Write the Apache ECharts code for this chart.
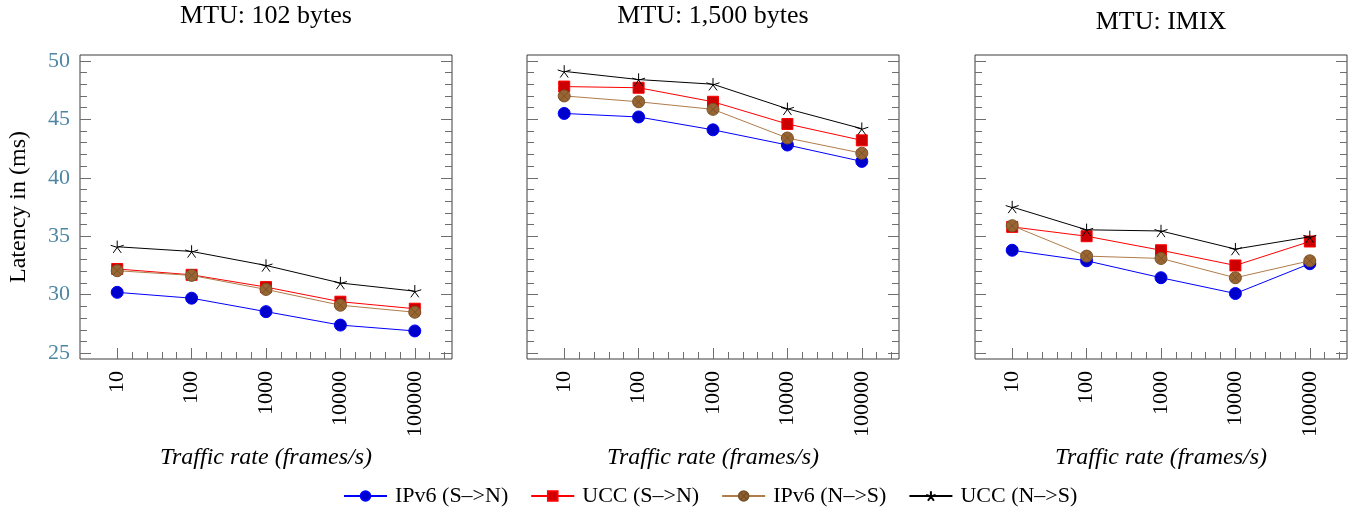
<!DOCTYPE html>
<html>
<head>
<meta charset="utf-8">
<script src="https://cdn.jsdelivr.net/npm/echarts@6/dist/echarts.min.js"></script>
<style>
  html, body { margin: 0; padding: 0; background: #fff; }
  #chart { width: 1358px; height: 510px; }
</style>
</head>
<body>
<div id="chart"></div>
<script>
// x categories (traffic rate, frames/s)
const rates = ['10', '100', '1000', '10000', '100000']
const panelTitles = ['MTU: 102 bytes', 'MTU: 1,500 bytes', 'MTU: IMIX']
const seriesNames = ['IPv6 (S–>N)', 'UCC (S–>N)', 'IPv6 (N–>S)', 'UCC (N–>S)']
const yMajorTicks = [25, 30, 35, 40, 45, 50]

// latency in ms
const mtu102IPv6SN = [30.2, 29.7, 28.55, 27.4, 26.9]
const mtu102UccSN = [32.2, 31.7, 30.65, 29.4, 28.8]
const mtu102IPv6NS = [32.05, 31.65, 30.45, 29.1, 28.5]
const mtu102UccNS = [34.1, 33.7, 32.5, 31.0, 30.3]

const mtu1500IPv6SN = [45.5, 45.2, 44.1, 42.8, 41.4]
const mtu1500UccSN = [47.8, 47.7, 46.5, 44.6, 43.2]
const mtu1500IPv6NS = [47.0, 46.5, 45.85, 43.4, 42.1]
const mtu1500UccNS = [49.1, 48.4, 48.0, 45.9, 44.2]

const imixIPv6SN = [33.8, 32.9, 31.45, 30.1, 32.65]
const imixUccSN = [35.8, 35.0, 33.8, 32.5, 34.55]
const imixIPv6NS = [35.9, 33.3, 33.1, 31.45, 32.9]
const imixUccNS = [37.5, 35.55, 35.45, 33.9, 34.95]

const panels = [
  [mtu102IPv6SN, mtu102UccSN, mtu102IPv6NS, mtu102UccNS],
  [mtu1500IPv6SN, mtu1500UccSN, mtu1500IPv6NS, mtu1500UccNS],
  [imixIPv6SN, imixUccSN, imixIPv6NS, imixUccNS]
]

const FONT = "'Liberation Serif', 'Times New Roman', serif"
const gridLefts = [80, 527, 975]
const gridW = 372
const gridTop = 55
const gridH = 304

// tick positions (styling only)
const xMajor = rates.map((r, i) => i + 1)
const xMinor = []
for (let i = 1; i <= 5; i++) {
  for (let k = 1; k <= 4; k++) {
    if (i < 5 || k <= 2) xMinor.push(+(i + k * 0.2).toFixed(1))
  }
}
const yMinor = []
for (let v = 25; v <= 50; v++) if (v % 5 !== 0) yMinor.push(v)

const styles = [
  { line: '#0000ff', fill: '#0000cc', border: '#0000ff', symbol: 'circle', size: 12 },
  { line: '#ff0000', fill: '#cc0000', border: '#ff0000', symbol: 'rect', size: 11 },
  { line: '#b07c4a', fill: '#996633', border: '#7a5228',
    symbol: 'path://M10,0 A10,10 0 1,1 10,20 A10,10 0 1,1 10,0 Z M2.93,2.93 L17.07,17.07 M17.07,2.93 L2.93,17.07', size: 12 },
  { line: '#000000', fill: 'rgba(0,0,0,0)', border: '#000000',
    symbol: 'path://M0,-10 L0,0 M9.51,-3.09 L0,0 M5.88,8.09 L0,0 M-5.88,8.09 L0,0 M-9.51,-3.09 L0,0', size: 13 }
]

const grids = []
const xAxes = []
const yAxes = []
const series = []
const graphics = []

panels.forEach((panel, p) => {
  grids.push({
    left: gridLefts[p], top: gridTop, width: gridW, height: gridH,
    show: true, borderColor: '#3c3c3c', borderWidth: 1, backgroundColor: '#fff'
  })
  const xBase = {
    type: 'value', gridIndex: p, min: 0.5, max: 5.5, position: 'bottom',
    axisLine: { show: false }, splitLine: { show: false }
  }
  // x major (labels)
  xAxes.push({
    ...xBase,
    name: 'Traffic rate (frames/s)',
    nameLocation: 'middle',
    nameGap: 87,
    nameTextStyle: { fontFamily: FONT, fontSize: 24, fontStyle: 'italic', color: '#000' },
    axisTick: { inside: true, length: 11, customValues: xMajor, lineStyle: { color: '#6e6e6e' } },
    axisLabel: {
      customValues: xMajor, rotate: 90, margin: 12,
      fontFamily: FONT, fontSize: 22, color: '#000',
      formatter: (v) => rates[Math.round(v) - 1]
    }
  })
  // x minor
  xAxes.push({
    ...xBase,
    axisTick: { inside: true, length: 7, customValues: xMinor, lineStyle: { color: '#6e6e6e' } },
    axisLabel: { show: false }
  })
  const yBase = {
    type: 'value', gridIndex: p, min: 24.5, max: 50.5,
    axisLine: { show: false }, splitLine: { show: false }
  }
  ;['left', 'right'].forEach((side) => {
    yAxes.push({
      ...yBase,
      position: side,
      name: p === 0 && side === 'left' ? 'Latency in (ms)' : '',
      nameLocation: 'middle',
      nameGap: 49,
      nameTextStyle: { fontFamily: FONT, fontSize: 24, color: '#000' },
      axisTick: { inside: true, length: 11, customValues: yMajorTicks, lineStyle: { color: '#6e6e6e' } },
      axisLabel: {
        show: p === 0 && side === 'left',
        customValues: yMajorTicks, margin: 10,
        fontFamily: FONT, fontSize: 22, color: '#4f87a3'
      }
    })
    yAxes.push({
      ...yBase,
      position: side,
      axisTick: { inside: true, length: 7, customValues: yMinor, lineStyle: { color: '#6e6e6e' } },
      axisLabel: { show: false }
    })
  })
  panel.forEach((vals, s) => {
    const st = styles[s]
    series.push({
      name: seriesNames[s],
      type: 'line',
      xAxisIndex: p * 2,
      yAxisIndex: p * 4,
      data: vals.map((v, i) => [i + 1, v]),
      symbol: st.symbol,
      symbolSize: st.size,
      symbolKeepAspect: true,
      showAllSymbol: true,
      lineStyle: { color: st.line, width: 1 },
      itemStyle: { color: st.fill, borderColor: st.border, borderWidth: 1 },
      emphasis: { disabled: true },
      animation: false,
      z: 2 + s
    })
  })
  graphics.push({
    type: 'text',
    x: gridLefts[p] + gridW / 2,
    y: p === 2 ? 22 : 16,
    style: {
      text: panelTitles[p], fill: '#000', font: '26px ' + FONT,
      align: 'center', verticalAlign: 'middle'
    }
  })
})

const chart = echarts.init(document.getElementById('chart'), null, { renderer: 'canvas' })
chart.setOption({
  animation: false,
  backgroundColor: '#fff',
  grid: grids,
  xAxis: xAxes,
  yAxis: yAxes,
  series: series,
  graphic: graphics,
  legend: {
    data: seriesNames,
    top: 480,
    left: 338,
    itemWidth: 43,
    itemHeight: 12,
    itemGap: 22,
    textStyle: { fontFamily: FONT, fontSize: 22, color: '#000', width: 124, padding: [0, 0, 0, 3] }
  }
})
</script>
</body>
</html>
